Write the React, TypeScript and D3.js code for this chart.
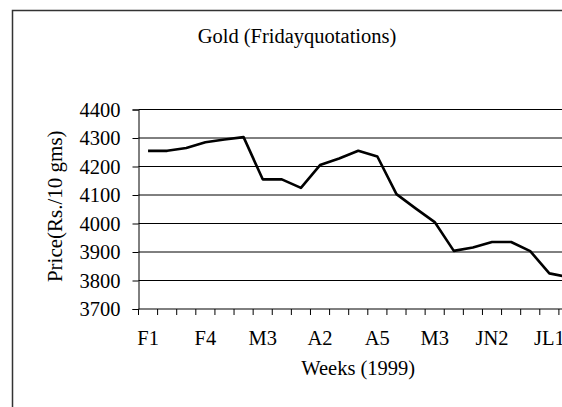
import React, { useEffect, useRef } from "react";
import * as d3 from "d3";

// weekly Friday quotations, Feb - Jul 1999
const weeks = [
  "F1", "F2", "F3", "F4", "M1", "M2", "M3", "M4",
  "A1", "A2", "A3", "A4", "A5", "M1", "M2", "M3",
  "M4", "JN1", "JN2", "JN3", "JN4", "JL1", "JL2",
];
const prices = [
  4255, 4255, 4265, 4285, 4295, 4303, 4155, 4155,
  4125, 4205, 4228, 4255, 4235, 4103, 4053, 4005,
  3904, 3916, 3935, 3935, 3903, 3825, 3812,
];
const yTicks = [3700, 3800, 3900, 4000, 4100, 4200, 4300, 4400];

const W = 562;
const H = 407;
const margin = { l: 138.5, t: 109.5, r: -16, b: 98 }; // plot runs past the right edge
const font = "'Liberation Serif', 'Times New Roman', serif";

export default function App() {
  const ref = useRef<SVGSVGElement>(null);

  useEffect(() => {
    const root = d3.select(ref.current);
    root.selectAll("*").remove();

    const plotW = W - margin.l - margin.r;
    const plotH = H - margin.t - margin.b;

    // outer chart frame
    root
      .append("rect")
      .attr("x", 12.5)
      .attr("y", 10.5)
      .attr("width", 620)
      .attr("height", 440)
      .attr("fill", "white")
      .attr("stroke", "#333")
      .attr("stroke-width", 1.5);

    var svg = root
      .append("g")
      .attr("transform", `translate(${margin.l},${margin.t})`);

    var xScale = d3
      .scaleBand<number>()
      .domain(weeks.map((_, i) => i))
      .range([0, plotW]);

    var yScale = d3
      .scaleLinear()
      .domain([3700, 4400])
      .range([plotH, 0]);

    // gridlines
    svg
      .append("g")
      .selectAll("line")
      .data(yTicks.slice(1))
      .join("line")
      .attr("x1", 0)
      .attr("x2", plotW)
      .attr("y1", (d) => yScale(d))
      .attr("y2", (d) => yScale(d))
      .attr("stroke", "black")
      .attr("stroke-width", 1);

    // y axis
    var yAxis = svg
      .append("g")
      .call(d3.axisLeft(yScale).tickValues(yTicks).tickSize(6).tickPadding(12).tickFormat(d3.format("d")) as any);
    yAxis.select(".domain").attr("stroke", "black");
    yAxis.selectAll("line").attr("stroke", "black");
    yAxis
      .selectAll("text")
      .attr("font-family", font)
      .attr("font-size", 20.5)
      .attr("fill", "black");

    // x axis: ticks on category boundaries, every third label
    var xAxis = svg.append("g").attr("transform", `translate(0,${plotH})`);
    xAxis
      .append("line")
      .attr("x1", 0)
      .attr("x2", plotW)
      .attr("stroke", "black");
    xAxis
      .selectAll(".tick")
      .data(d3.range(weeks.length + 1))
      .join("line")
      .attr("class", "tick")
      .attr("x1", (i) => i * xScale.step())
      .attr("x2", (i) => i * xScale.step())
      .attr("y1", 0)
      .attr("y2", 6)
      .attr("stroke", "black");
    xAxis
      .selectAll("text")
      .data(weeks.map((w, i) => ({ w, i })).filter((d) => d.i % 3 === 0))
      .join("text")
      .attr("x", (d) => xScale(d.i)! + xScale.bandwidth() / 2)
      .attr("y", 36)
      .attr("text-anchor", "middle")
      .attr("font-family", font)
      .attr("font-size", 20.5)
      .text((d) => d.w);

    // price line
    svg
      .append("path")
      .datum(prices)
      .attr("fill", "none")
      .attr("stroke", "black")
      .attr("stroke-width", 2.6)
      .attr("stroke-linejoin", "round")
      .attr(
        "d",
        d3
          .line<number>()
          .x((_, i) => xScale(i)! + xScale.bandwidth() / 2)
          .y((d) => yScale(d))
      );

    // titles
    root
      .append("text")
      .attr("x", 297)
      .attr("y", 43)
      .attr("text-anchor", "middle")
      .attr("font-family", font)
      .attr("font-size", 20.5)
      .text("Gold (Fridayquotations)");

    root
      .append("text")
      .attr("x", margin.l + plotW / 2)
      .attr("y", 375)
      .attr("text-anchor", "middle")
      .attr("font-family", font)
      .attr("font-size", 20.5)
      .text("Weeks (1999)");

    root
      .append("text")
      .attr("transform", `translate(62,${margin.t + plotH / 2 - 3}) rotate(-90)`)
      .attr("text-anchor", "middle")
      .attr("font-family", font)
      .attr("font-size", 21)
      .text("Price(Rs./10 gms)");
  }, []);

  return (
    <svg
      ref={ref}
      width={W}
      height={H}
      style={{ position: "fixed", left: 0, top: 0, background: "white" }}
    />
  );
}
